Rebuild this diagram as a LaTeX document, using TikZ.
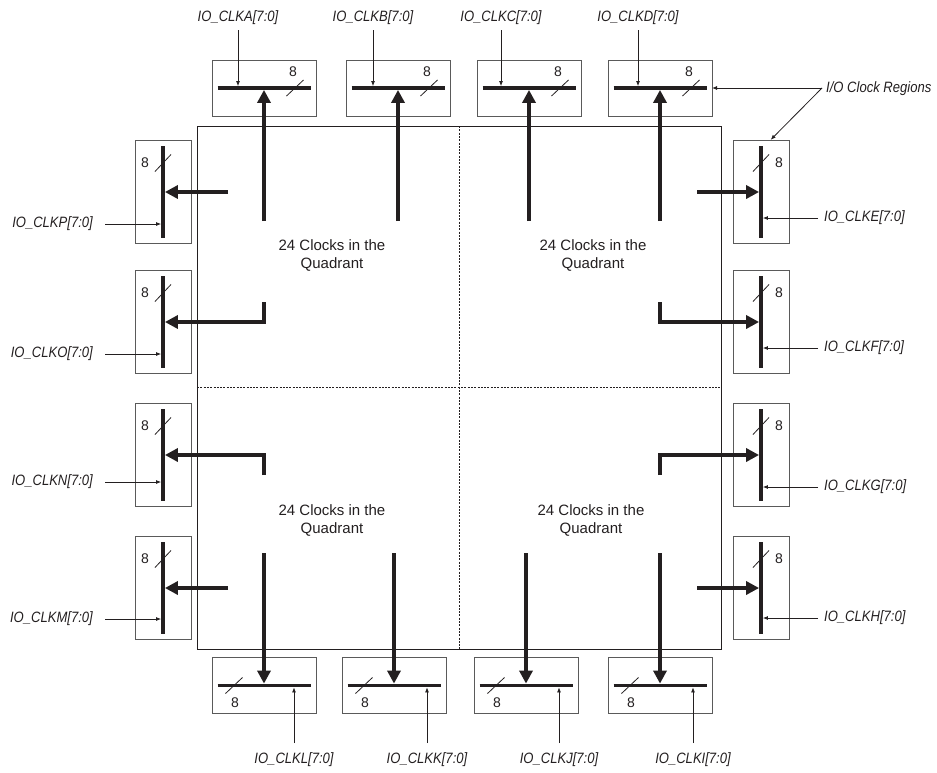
\documentclass[tikz,border=0pt]{standalone}
\usepackage{fontspec}
\setmainfont{Liberation Sans}
\newfontfamily\lblfont[FakeStretch=0.87]{Liberation Sans}
\usetikzlibrary{arrows.meta,calc}
\definecolor{ink}{HTML}{231F20}
\definecolor{boxgray}{HTML}{5A5A5A}
\begin{document}
\begin{tikzpicture}[x=1pt,y=-1pt,
  chipbox/.style={draw=ink, line width=1pt, minimum width=524pt, minimum height=523pt, inner sep=0pt, outer sep=0pt},
  hbox/.style={draw=boxgray, line width=1pt, minimum width=104pt, minimum height=56pt, inner sep=0pt, outer sep=0pt},
  vbox/.style={draw=boxgray, line width=1pt, minimum width=56pt, minimum height=103pt, inner sep=0pt, outer sep=0pt},
  bus/.style={draw=ink, line width=3.8pt},
  clk/.style={draw=ink, line width=3.5pt, line join=miter, shorten >=1.9pt, -{Triangle[length=13pt,width=13pt]}},
  inarrow/.style={draw=ink, line width=0.8pt, shorten >=1.9pt, -{Latex[length=5pt,width=4pt]}},
  slash/.style={draw=ink, line width=0.8pt},
  quadline/.style={draw=ink, line width=0.8pt, dash pattern=on 2pt off 1.3pt},
  lbl/.style={font=\lblfont\itshape\fontsize{15}{17}\selectfont, text=ink, inner sep=1pt},
  num/.style={font=\fontsize{14}{16}\selectfont, text=ink, inner sep=0pt},
  qtext/.style={font=\fontsize{15}{18}\selectfont, text=ink, align=center, inner sep=0pt}
]
\useasboundingbox (0,0) rectangle (937,772);

% main chip
\node[chipbox] (chip) at (459,387.5) {};
\draw[quadline] (chip.north) -- (chip.south);
\draw[quadline] (chip.west) -- (chip.east);

\node[qtext] (q1) at (332,255) {24 Clocks in the\\Quadrant};
\node[qtext] (q2) at (593,255) {24 Clocks in the\\Quadrant};
\node[qtext] (q3) at (332,520) {24 Clocks in the\\Quadrant};
\node[qtext] (q4) at (591,520) {24 Clocks in the\\Quadrant};

% top regions
\foreach \n/\x/\ix in {A/264/238, B/398/373, C/529/501, D/660/638} {
  \node[hbox] (\n) at (\x,88) {};
  \draw[bus] ($(\n.west)+(5.5,0)$) -- ($(\n.east)+(-5.5,0)$);
  \node[num] (n\n) at ($(\n.east)+(-23,-16)$) {8};
  \draw[slash] ($(\n.east)+(-21,0)+(-8.5,8)$) -- ($(\n.east)+(-21,0)+(8.5,-8)$);
  \node[lbl] (l\n) at (\ix,18) {IO\_CLK\n[7:0]};
  \coordinate (i\n) at (\ix,30);
  \draw[inarrow] (i\n) -- (i\n |- \n.center);
  \coordinate (s\n) at (\x,221);
  \draw[clk] (s\n) -- (\n.center);
}

% bottom regions
\foreach \n/\x/\ix in {L/264/294, K/394/427, J/526/559, I/660/693} {
  \node[hbox] (\n) at (\x,685.5) {};
  \draw[bus] ($(\n.west)+(5.5,0)$) -- ($(\n.east)+(-5.5,0)$);
  \node[num] (n\n) at ($(\n.west)+(23,17.5)$) {8};
  \draw[slash] ($(\n.west)+(22,0)+(-8.5,8)$) -- ($(\n.west)+(22,0)+(8.5,-8)$);
  \node[lbl] (l\n) at (\ix,760) {IO\_CLK\n[7:0]};
  \coordinate (i\n) at (\ix,743);
  \draw[inarrow] (i\n) -- (i\n |- \n.center);
  \coordinate (s\n) at (\x,553);
  \draw[clk] (s\n) -- (\n.center);
}

% left regions
\foreach \n/\y/\iy in {P/192/224, O/322/354, N/455/482, M/588/619} {
  \node[vbox] (\n) at (163,\y) {};
  \draw[bus] ($(\n.north)+(0,5.5)$) -- ($(\n.south)+(0,-5.5)$);
  \node[num] (n\n) at ($(\n.north west)+(10,22.5)$) {8};
  \draw[slash] ($(\n.north)+(0,22.5)+(-8,8.5)$) -- ($(\n.north)+(0,22.5)+(8,-8.5)$);
  \node[lbl,anchor=east] (l\n) at (94,\iy) {IO\_CLK\n[7:0]};
  \coordinate (i\n) at (105,\iy);
  \draw[inarrow] (i\n) -- (i\n -| \n.center);
}

% right regions
\foreach \n/\y/\iy in {E/192/218, F/322/348, G/455/487, H/588/618} {
  \node[vbox] (\n) at (761,\y) {};
  \draw[bus] ($(\n.north)+(0,5.5)$) -- ($(\n.south)+(0,-5.5)$);
  \node[num] (n\n) at ($(\n.north east)+(-10,22.5)$) {8};
  \draw[slash] ($(\n.north)+(0,22.5)+(-8,8.5)$) -- ($(\n.north)+(0,22.5)+(8,-8.5)$);
  \node[lbl,anchor=west] (l\n) at (823,\iy) {IO\_CLK\n[7:0]};
  \coordinate (i\n) at (818,\iy);
  \draw[inarrow] (i\n) -- (i\n -| \n.center);
}

% side clock arrows
\coordinate (sP) at (228,192);
\coordinate (sO) at (264,302);
\coordinate (sN) at (264,475);
\coordinate (sM) at (228,588);
\draw[clk] (sP) -- (P.center);
\draw[clk] (sO) |- (O.center);
\draw[clk] (sN) |- (N.center);
\draw[clk] (sM) -- (M.center);

\coordinate (sE) at (697,192);
\coordinate (sF) at (660,302);
\coordinate (sG) at (660,475);
\coordinate (sH) at (697,588);
\draw[clk] (sE) -- (E.center);
\draw[clk] (sF) |- (F.center);
\draw[clk] (sG) |- (G.center);
\draw[clk] (sH) -- (H.center);

% I/O Clock Regions callout
\node[lbl,anchor=west] (rg) at (825,89) {I/O Clock Regions};
\coordinate (rgp) at (822,88);
\draw[inarrow, shorten >=0pt] (rgp) -- (D.east);
\draw[inarrow, shorten >=1pt] (rgp) -- ($(E.north)+(9,0)$);
\end{tikzpicture}
\end{document}
